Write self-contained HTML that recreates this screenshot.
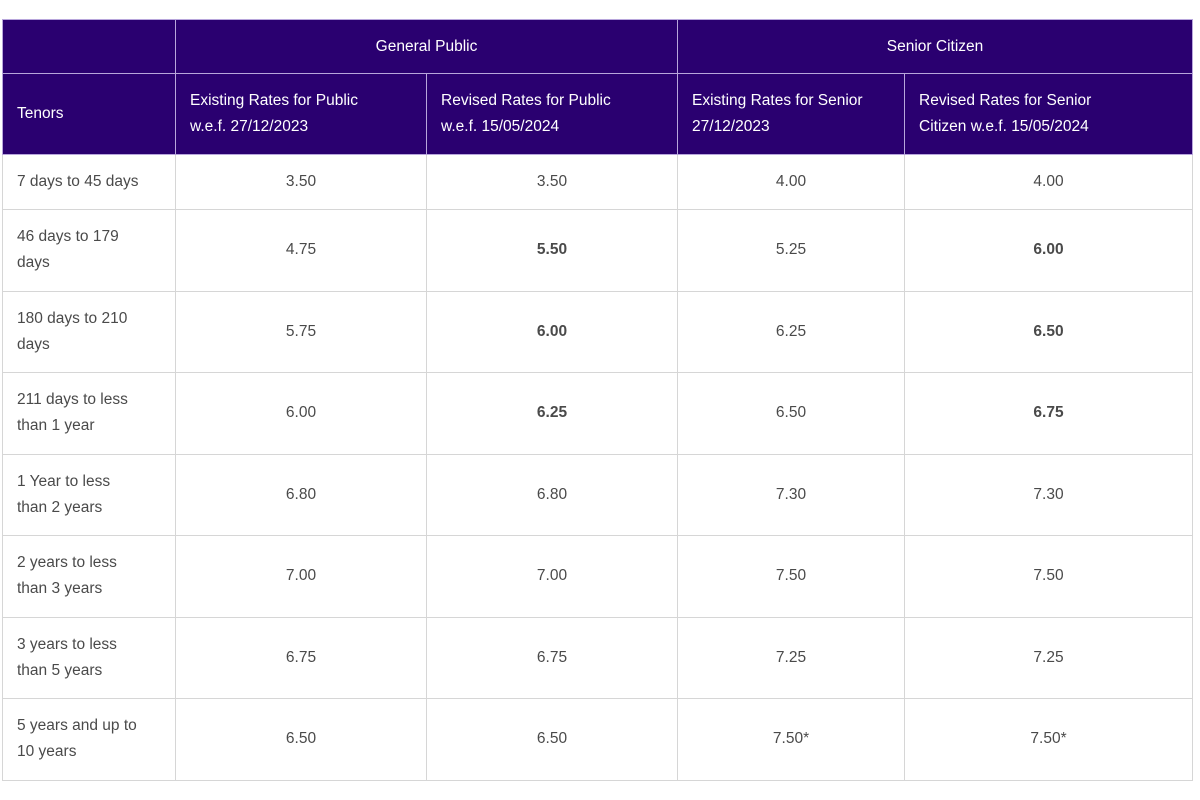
<!DOCTYPE html>
<html><head><meta charset="utf-8"><style>
body{margin:0;width:1200px;height:800px;background:#fff;font-family:"Liberation Sans",sans-serif;overflow:hidden}
table{position:absolute;left:2px;top:19px;border-collapse:collapse;table-layout:fixed;width:1190px}
td,th{border:1px solid #d6d6d6;font-size:15.5px;color:#4a4a4a;font-weight:normal;padding:0 14px;line-height:26px;white-space:nowrap}
th{background:#2a0070;color:#fff;border-color:#b8a6dc;text-align:left}
th.c{text-align:center}
td.v{text-align:center}
td.b{font-weight:bold}
tr.h1{height:54px}tr.h2{height:81px}tr.r0{height:55px}tr.r{height:81.5px}
</style></head><body>
<table>
<colgroup><col style="width:173px"><col style="width:251px"><col style="width:251px"><col style="width:227px"><col style="width:288px"></colgroup>
<tr class="h1"><th></th><th class="c" colspan="2">General Public</th><th class="c" colspan="2">Senior Citizen</th></tr>
<tr class="h2"><th>Tenors</th><th>Existing Rates for Public<br>w.e.f. 27/12/2023</th><th>Revised Rates for Public<br>w.e.f. 15/05/2024</th><th>Existing Rates for Senior<br>27/12/2023</th><th>Revised Rates for Senior<br>Citizen w.e.f. 15/05/2024</th></tr>
<tr class="r0"><td>7 days to 45 days</td><td class="v">3.50</td><td class="v">3.50</td><td class="v">4.00</td><td class="v">4.00</td></tr>
<tr class="r"><td>46 days to 179<br>days</td><td class="v">4.75</td><td class="v b">5.50</td><td class="v">5.25</td><td class="v b">6.00</td></tr>
<tr class="r"><td>180 days to 210<br>days</td><td class="v">5.75</td><td class="v b">6.00</td><td class="v">6.25</td><td class="v b">6.50</td></tr>
<tr class="r"><td>211 days to less<br>than 1 year</td><td class="v">6.00</td><td class="v b">6.25</td><td class="v">6.50</td><td class="v b">6.75</td></tr>
<tr class="r"><td>1 Year to less<br>than 2 years</td><td class="v">6.80</td><td class="v">6.80</td><td class="v">7.30</td><td class="v">7.30</td></tr>
<tr class="r"><td>2 years to less<br>than 3 years</td><td class="v">7.00</td><td class="v">7.00</td><td class="v">7.50</td><td class="v">7.50</td></tr>
<tr class="r"><td>3 years to less<br>than 5 years</td><td class="v">6.75</td><td class="v">6.75</td><td class="v">7.25</td><td class="v">7.25</td></tr>
<tr class="r"><td>5 years and up to<br>10 years</td><td class="v">6.50</td><td class="v">6.50</td><td class="v">7.50*</td><td class="v">7.50*</td></tr>
</table>
</body></html>
